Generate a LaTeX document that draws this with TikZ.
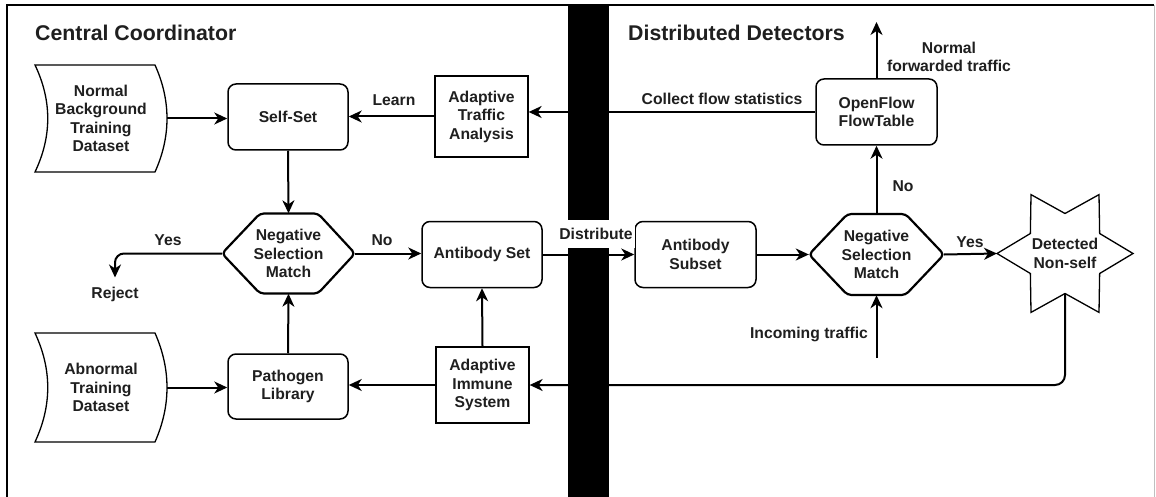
\documentclass[tikz,border=0pt]{standalone}
\usepackage{fontspec}
\setmainfont{Liberation Sans}
\usetikzlibrary{arrows.meta,calc}
\begin{document}
\begin{tikzpicture}[x=1pt,y=-1pt,
  every node/.style={font=\bfseries\fontsize{15.7}{18.5}\selectfont, text=black!88, inner sep=0pt},
  rbox/.style={draw, rounded corners=8pt, line width=1.5pt, minimum width=120pt, minimum height=66pt, align=center},
  sbox/.style={draw, line width=1.3pt, align=center},
  shapeline/.style={line width=1.3pt},
  hexline/.style={line width=2.2pt, rounded corners=4pt},
  conn/.style={line width=2pt, -{Stealth[length=13pt,width=12pt,inset=4pt]}},
  lbl/.style={align=center},
  ttl/.style={font=\bfseries\fontsize{21.3}{25}\selectfont, anchor=base west}
]
\useasboundingbox (0,0) rectangle (1156,497);
\fill[white] (0,0) rectangle (1156,497);

% frame
\draw[line width=1.5pt] (7,497) -- (7,5) -- (1154,5);
\draw[black!25, line width=1pt] (1154,5) -- (1154,497);

% titles
\node[ttl] (t1) at (35,41) {Central Coordinator};
\node[ttl] (t2) at (628,41) {Distributed Detectors};

% data shapes
\node[lbl, minimum width=132pt, minimum height=107pt] (normal) at (101,118.5) {Normal\\Background\\Training\\Dataset};
\begin{scope}[shift={(normal.center)}]
\draw[shapeline] (-66,-53.5) -- (54,-53.5) .. controls (70,-18) and (70,18) .. (54,53.5) -- (-66,53.5) .. controls (-49,18) and (-49,-18) .. cycle;
\end{scope}
\node[lbl, minimum width=132pt, minimum height=109pt] (abnormal) at (101,387.5) {Abnormal\\Training\\Dataset};
\begin{scope}[shift={(abnormal.center)}]
\draw[shapeline] (-66,-54.5) -- (54,-54.5) .. controls (70,-18) and (70,18) .. (54,54.5) -- (-66,54.5) .. controls (-49,18) and (-49,-18) .. cycle;
\end{scope}

% boxes
\node[rbox] (selfset) at (288,117) {Self-Set};
\node[rbox, minimum height=65pt] (pathogen) at (288,386.5) {Pathogen\\Library};
\node[rbox] (abset) at (482,254.5) {Antibody Set};
\node[rbox, minimum width=121pt] (absub) at (695.5,254.5) {Antibody\\Subset};
\node[rbox, minimum width=121pt] (openflow) at (876.5,112) {OpenFlow\\FlowTable};
\node[sbox, minimum width=93pt, minimum height=81pt] (ata) at (481.5,116.5) {Adaptive\\Traffic\\Analysis};
\node[sbox, minimum width=93pt, minimum height=76pt] (ais) at (482.5,385) {Adaptive\\Immune\\System};

% hexagons
\node[lbl, minimum width=133pt, minimum height=80pt] (nsm1) at (288.5,253.5) {Negative\\Selection\\Match};
\begin{scope}[shift={(nsm1.center)}]
\draw[hexline] (-66.5,0) -- (-28.5,-40) -- (29.5,-40) -- (66.5,0) -- (29.5,40) -- (-28.5,40) -- cycle;
\end{scope}
\node[lbl, minimum width=135pt, minimum height=81pt] (nsm2) at (876.5,254.5) {Negative\\Selection\\Match};
\begin{scope}[shift={(nsm2.center)}]
\draw[hexline] (-67.5,0) -- (-29,-40.5) -- (29,-40.5) -- (67.5,0) -- (29,40.5) -- (-29,40.5) -- cycle;
\end{scope}

% star
\node[lbl] (star) at (1065,253.5) {Detected\\Non-self};
\begin{scope}[shift={(star.center)}]
\draw[shapeline] (0:68) -- (30:40) -- (60:68) -- (90:40) -- (120:68) -- (150:40) -- (180:68) -- (210:40) -- (240:68) -- (270:40) -- (300:68) -- (330:40) -- cycle;
\end{scope}
\coordinate (starW) at ($(star.center)+(-68,0)$);
\coordinate (starS) at ($(star.center)+(0,40)$);

% free ends / labels
\node (reject) at (115,294) {Reject};
\coordinate (fwd) at (876.5,22);
\coordinate (inc) at (876.5,358);

% connectors
\draw[conn] (normal.east) -- (normal.east -| selfset.west);
\draw[conn] (abnormal.east) -- (abnormal.east -| pathogen.west);
\draw[conn] (ata.west) -- (ata.west -| selfset.east);
\draw[conn] (openflow.west) -- (openflow.west -| ata.east);
\draw[conn] (selfset.south) -- (nsm1.north);
\draw[conn] (pathogen.north) -- (nsm1.south);
\draw[conn, rounded corners=9pt] (nsm1.west) -| ([yshift=9pt]reject.north);
\draw[conn] (nsm1.east) -- (nsm1.east -| abset.west);
\draw[conn] (ais.north) -- (abset.south);
\draw[conn] (ais.west) -- (ais.west -| pathogen.east);
\draw[conn] (abset.east) -- (absub.west);
\draw[conn] (absub.east) -- (nsm2.west);
\draw[conn] (nsm2.north) -- (openflow.south);
\draw[conn] (openflow.north) -- (fwd);
\draw[conn] (inc) -- (nsm2.south);
\draw[conn] (nsm2.east) -- (starW);
\draw[conn, rounded corners=10pt] (starS) |- (ais.east);

% separator bar
\fill[black] (568,5) rectangle (609,497);

% edge labels
\node (learn) at (394,100) {Learn};
\node (collect) at (722,99) {Collect flow statistics};
\node (yes1) at (168,240) {Yes};
\node (no1) at (382,240) {No};
\node[fill=white, minimum width=78pt, minimum height=28pt] (dist) at (596,234) {Distribute};
\node (no2) at (903,186) {No};
\node (yes2) at (970,242) {Yes};
\node (inclbl) at (809,334) {Incoming traffic};
\node[lbl] (fwdlbl) at (949,57) {Normal\\forwarded traffic};
\end{tikzpicture}
\end{document}
